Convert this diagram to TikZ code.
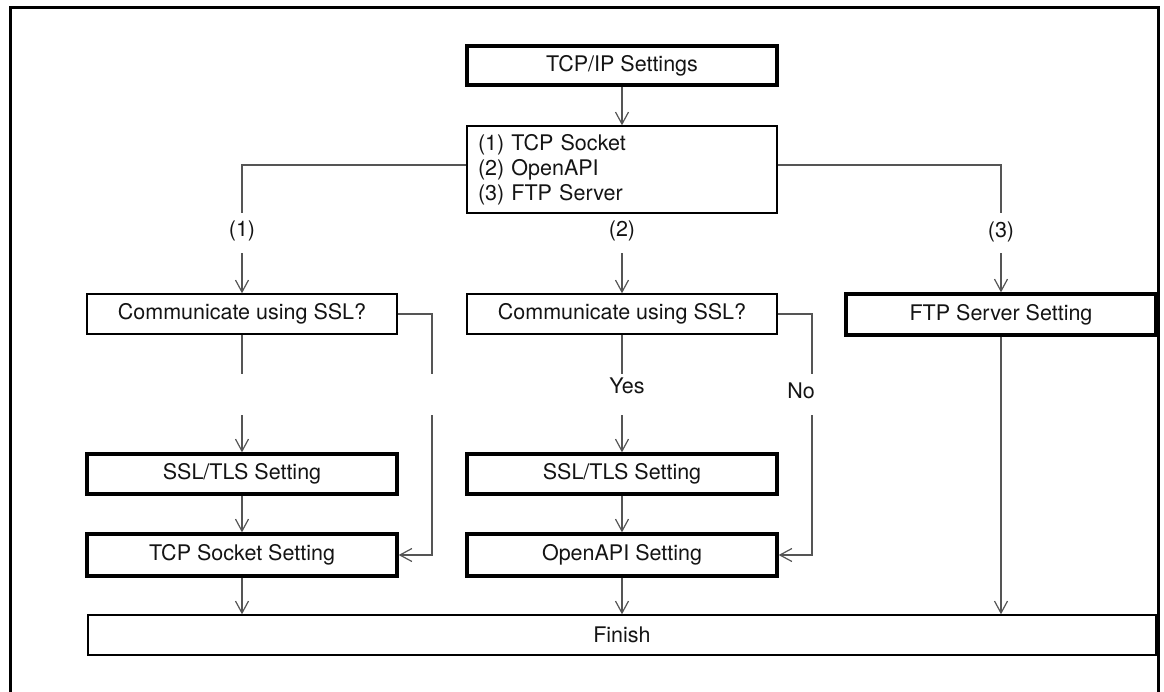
\documentclass[tikz,border=0pt]{standalone}
\usepackage{fontspec}
\setmainfont{TeX Gyre Heros}
\usetikzlibrary{arrows.meta}
\definecolor{linegray}{RGB}{85,85,85}
\definecolor{txt}{RGB}{20,20,20}
\newcommand\fs{\fontsize{21.5}{25}\selectfont}
\begin{document}
\begin{tikzpicture}[x=1pt,y=-1pt,
  box/.style={draw=black, line width=1.4pt, minimum height=40pt, minimum width=310pt, inner sep=0pt, font=\fs, text=txt},
  thickbox/.style={box, line width=3.3pt},
  conn/.style={draw=linegray, line width=1.3pt},
  arr/.style={conn, -{Straight Barb[length=12pt,width=13pt,line width=1.2pt]}},
  lbl/.style={font=\fs, inner sep=0pt, text=txt}]
\useasboundingbox (0,0) rectangle (1164,691);
\clip (0,0) rectangle (1164,691);
% frame
\draw[line width=3pt] (10,700) -- (10,7) -- (1158,7) -- (1158,700);
% nodes
\node[thickbox, minimum height=39pt] (tcpip) at (622,65.5) {TCP/IP Settings};
\node[box, align=left, text width=288pt, inner xsep=11pt, minimum height=87pt] (list) at (622,169.5) {(1) TCP Socket\\(2) OpenAPI\\(3) FTP Server};
\node[lbl] (l1) at (242,231) {(1)};
\node[lbl] (l2) at (622,231) {(2)};
\node[lbl] (l3) at (1001,232) {(3)};
\node[box] (comm1) at (242,314) {Communicate using SSL?};
\node[box] (comm2) at (622,314) {Communicate using SSL?};
\node[thickbox, minimum height=41pt] (ftp) at (1001,314.5) {FTP Server Setting};
\node[lbl] (yes) at (627,386) {Yes};
\node[lbl] (no) at (801,391) {No};
\node[thickbox] (ssl1) at (242,474) {SSL/TLS Setting};
\node[thickbox] (ssl2) at (622,474) {SSL/TLS Setting};
\node[thickbox, minimum height=42pt] (tcps) at (242,555) {TCP Socket Setting};
\node[thickbox, minimum height=42pt] (oapi) at (622,555) {OpenAPI Setting};
\node[box, minimum width=1068pt] (finish) at (622,635) {Finish};
% coordinates
\coordinate (h) at (0,165);
\coordinate (a1) at (242,213);
\coordinate (a3) at (1001,213);
\coordinate (s1) at (242,253);
\coordinate (s2) at (622,253);
\coordinate (s3) at (1001,253);
\coordinate (g1a) at (242,374);
\coordinate (g1b) at (242,415);
\coordinate (r1a) at (432,374);
\coordinate (r1b) at (432,415);
\coordinate (g2a) at (622,374);
\coordinate (g2b) at (622,415);
\coordinate (r2a) at (812,374);
\coordinate (r2b) at (812,415);
% connectors
\draw[arr] (tcpip) -- (list);
\draw[conn] (list.west |- h) -| (a1);
\draw[conn] (list.east |- h) -| (a3);
\draw[arr] (s1) -- (comm1);
\draw[arr] (s2) -- (comm2);
\draw[arr] (s3) -- (ftp);
\draw[conn] (comm1) -- (g1a);
\draw[arr] (g1b) -- (ssl1);
\draw[conn] (comm1.east) -| (r1a);
\draw[arr] (r1b) |- (tcps.east);
\draw[conn] (comm2) -- (g2a);
\draw[arr] (g2b) -- (ssl2);
\draw[conn] (comm2.east) -| (r2a);
\draw[arr] (r2b) |- (oapi.east);
\draw[arr] (ssl1) -- (tcps);
\draw[arr] (ssl2) -- (oapi);
\draw[arr] (tcps) -- (tcps |- finish.north);
\draw[arr] (oapi) -- (oapi |- finish.north);
\draw[arr] (ftp) -- (ftp |- finish.north);
\end{tikzpicture}
\end{document}
